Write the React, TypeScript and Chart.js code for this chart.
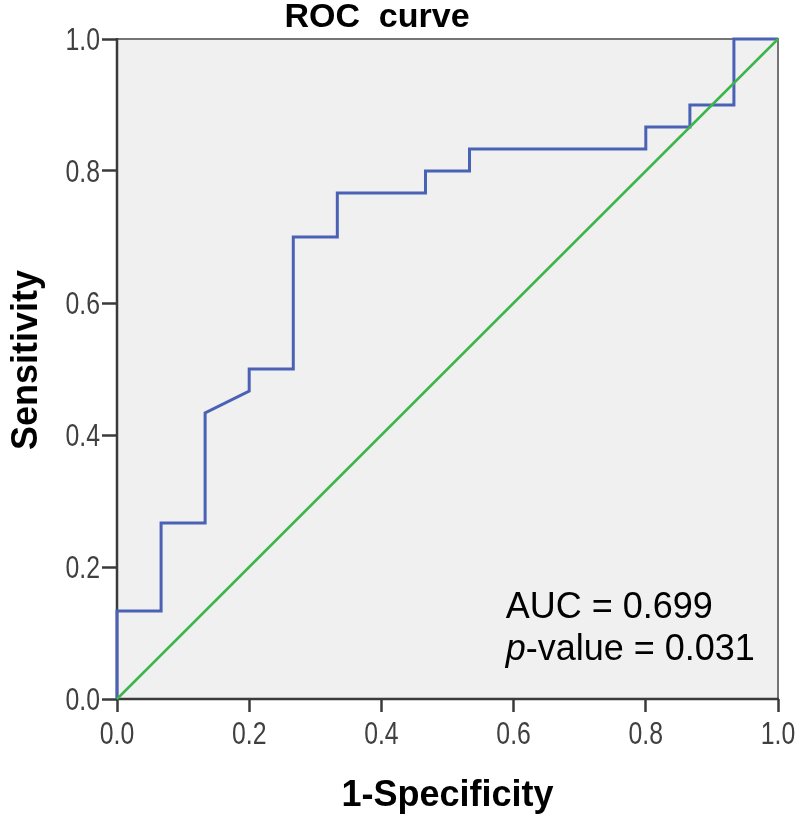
import React, { useEffect, useRef } from "react";
import { Chart, registerables } from "chart.js";

Chart.register(...registerables);

// ROC curve: false positive rate (1 - specificity) vs. true positive rate (sensitivity)
const falsePositiveRate = [
  0, 0, 0.0667, 0.0667, 0.1333, 0.1333, 0.2, 0.2, 0.2667, 0.2667, 0.3333, 0.3333,
  0.4667, 0.4667, 0.5333, 0.5333, 0.8, 0.8, 0.8667, 0.8667, 0.9333, 0.9333, 1,
];
const sensitivity = [
  0, 0.1333, 0.1333, 0.2667, 0.2667, 0.4333, 0.4667, 0.5, 0.5, 0.7, 0.7, 0.7667,
  0.7667, 0.8, 0.8, 0.8333, 0.8333, 0.8667, 0.8667, 0.9, 0.9, 1, 1,
];
// reference (chance) line
const chanceX = [0, 1];
const chanceY = [0, 1];

const tickValues = [0, 0.2, 0.4, 0.6, 0.8, 1.0];
const tickLabels = ["0.0", "0.2", "0.4", "0.6", "0.8", "1.0"];

const chartTitle = "ROC  curve";
const xTitle = "1-Specificity";
const yTitle = "Sensitivity";
const aucText = "AUC = 0.699";
const pLabel = "p";
const pText = "-value = 0.031";

const MAIN_FONT = "'Liberation Sans', Arial, Helvetica, sans-serif";

// draws text horizontally condensed, like a narrow sans face
function narrowText(ctx: CanvasRenderingContext2D, text: string, x: number, y: number, align: CanvasTextAlign) {
  ctx.save();
  ctx.translate(x, y);
  ctx.scale(0.8, 1);
  ctx.textAlign = align;
  ctx.fillText(text, 0, 0);
  ctx.restore();
}

const framePlugin = {
  id: "rocFrame",
  beforeDatasetsDraw(chart: any) {
    const { ctx, chartArea: a } = chart;
    ctx.save();
    ctx.fillStyle = "#f0f0f0";
    ctx.fillRect(a.left, a.top, a.right - a.left, a.bottom - a.top);
    ctx.strokeStyle = "#747474";
    ctx.lineWidth = 2;
    ctx.beginPath();
    ctx.moveTo(a.left, a.top);
    ctx.lineTo(a.right, a.top);
    ctx.lineTo(a.right, a.bottom);
    ctx.stroke();
    ctx.strokeStyle = "#3a3a3a";
    ctx.lineWidth = 2.5;
    ctx.beginPath();
    ctx.moveTo(a.left, a.top - 1);
    ctx.lineTo(a.left, a.bottom);
    ctx.lineTo(a.right + 1, a.bottom);
    ctx.stroke();
    ctx.restore();
  },
  afterDraw(chart: any) {
    const { ctx, chartArea: a } = chart;
    const xs = chart.scales.x;
    const ys = chart.scales.y;
    ctx.save();

    // tick labels
    ctx.fillStyle = "#404040";
    ctx.font = `31px ${MAIN_FONT}`;
    ctx.textBaseline = "alphabetic";
    tickValues.forEach((v, i) => {
      narrowText(ctx, tickLabels[i], xs.getPixelForValue(v), a.bottom + 45, "center");
      narrowText(ctx, tickLabels[i], a.left - 17, ys.getPixelForValue(v) + 11, "right");
    });

    // chart title
    ctx.fillStyle = "#000";
    ctx.font = `bold 34px ${MAIN_FONT}`;
    ctx.textAlign = "center";
    ctx.fillText(chartTitle, 377, 27);

    // axis titles
    ctx.font = `bold 36px ${MAIN_FONT}`;
    ctx.fillText(xTitle, (a.left + a.right) / 2, 806);
    ctx.save();
    ctx.translate(37, 360);
    ctx.rotate(-Math.PI / 2);
    ctx.fillText(yTitle, 0, 0);
    ctx.restore();

    // statistics annotation
    const x0 = xs.getPixelForValue(0.588);
    ctx.textAlign = "left";
    ctx.font = `36px ${MAIN_FONT}`;
    ctx.fillText(aucText, x0, a.bottom - 81);
    ctx.font = `italic 36px ${MAIN_FONT}`;
    ctx.fillText(pLabel, x0, a.bottom - 39);
    const w = ctx.measureText(pLabel).width;
    ctx.font = `36px ${MAIN_FONT}`;
    ctx.fillText(pText, x0 + w, a.bottom - 39);
    ctx.restore();
  },
};

export default function App() {
  const canvasRef = useRef<HTMLCanvasElement | null>(null);

  useEffect(() => {
    document.body.style.margin = "0";
    const canvas = canvasRef.current;
    if (!canvas) return;
    const rocPoints = falsePositiveRate.map((x, i) => ({ x, y: sensitivity[i] }));
    const chancePoints = chanceX.map((x, i) => ({ x, y: chanceY[i] }));

    const axisCommon = (isY: boolean) => ({
      type: "linear" as const,
      min: 0,
      max: 1,
      afterBuildTicks(scale: any) {
        scale.ticks = tickValues.map((v) => ({ value: v }));
      },
      ticks: { display: false },
      grid: {
        display: true,
        drawOnChartArea: false,
        drawTicks: true,
        tickLength: isY ? 15 : 13,
        tickWidth: 2.5,
        tickColor: "#3a3a3a",
      },
      border: { display: false },
      title: { display: false },
    });

    const chart = new Chart(canvas, {
      type: "scatter",
      data: {
        datasets: [
          {
            data: chancePoints,
            showLine: true,
            borderColor: "#3cb64a",
            borderWidth: 2.5,
            pointRadius: 0,
            clip: false as any,
          },
          {
            data: rocPoints,
            showLine: true,
            borderColor: "#4a62b6",
            borderWidth: 3,
            pointRadius: 0,
            clip: false as any,
          },
        ],
      },
      options: {
        responsive: false,
        animation: false,
        devicePixelRatio: 1,
        layout: { padding: { top: 39, right: 20, left: 0, bottom: 0 } },
        plugins: {
          legend: { display: false },
          tooltip: { enabled: false },
          title: { display: false },
        },
        scales: {
          x: {
            ...axisCommon(false),
            position: "bottom",
            afterFit(scale: any) {
              scale.height = 120;
            },
          },
          y: {
            ...axisCommon(true),
            position: "left",
            afterFit(scale: any) {
              scale.width = 117;
            },
          },
        },
      },
      plugins: [framePlugin],
    });

    return () => chart.destroy();
  }, []);

  return (
    <div style={{ position: "absolute", left: 0, top: 0, width: 798, height: 819, background: "#fff" }}>
      <canvas ref={canvasRef} width={798} height={819} />
    </div>
  );
}
